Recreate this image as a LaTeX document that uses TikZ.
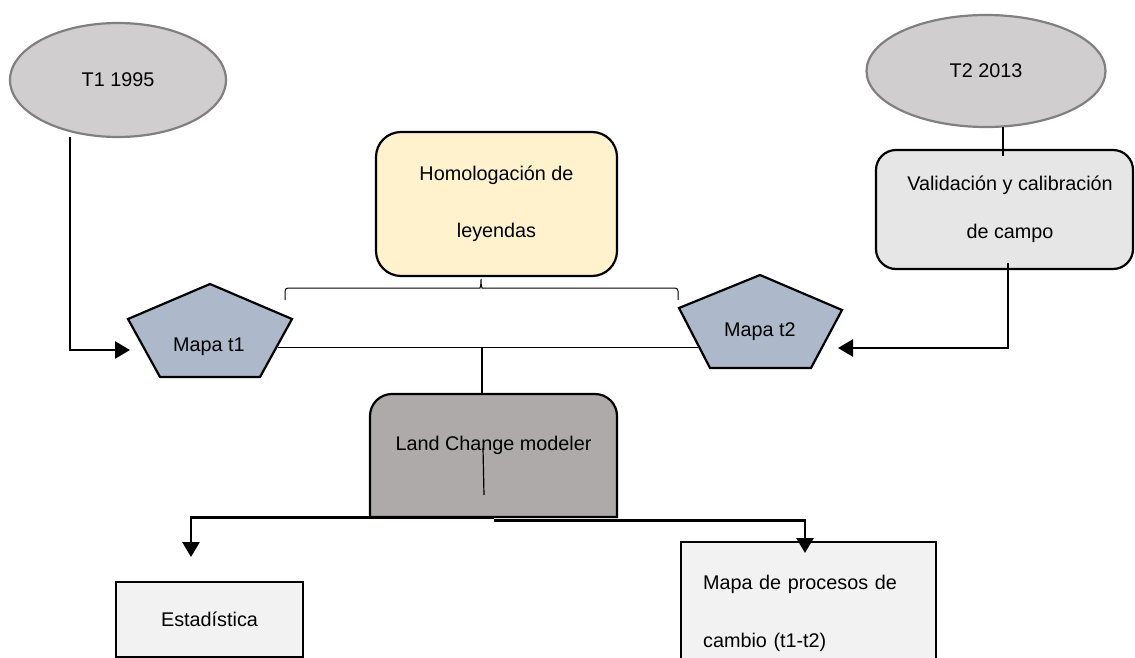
\documentclass[tikz,border=0pt]{standalone}
\usepackage{fontspec}
\setmainfont{Liberation Sans}
\usetikzlibrary{shapes.geometric,arrows.meta}
\definecolor{ellfill}{HTML}{D0CECE}
\definecolor{ellline}{HTML}{808080}
\definecolor{homfill}{HTML}{FFF2CC}
\definecolor{penfill}{HTML}{ADB9CA}
\definecolor{valfill}{HTML}{E7E6E6}
\definecolor{lcmfill}{HTML}{AEAAAA}
\definecolor{boxfill}{HTML}{F2F2F2}
\begin{document}
\begin{tikzpicture}[x=1pt,y=1pt,
  every node/.style={font=\fontsize{19.8}{24}\selectfont, inner sep=0pt},
  ell/.style={ellipse, draw=ellline, line width=2.2pt, fill=ellfill},
  boxline/.style={draw=black, line width=2.2pt},
  penta/.style={draw=black, line width=2.2pt, fill=penfill, line join=miter},
  thinline/.style={draw=black, line width=1.2pt},
  arr/.style={draw=black, line width=2.8pt, -{Triangle[length=15pt,width=17pt]}}
]
\useasboundingbox (0,0) rectangle (1135,-658);
\clip (0,0) rectangle (1135,-658);

% ellipses
\node[ell, minimum width=216, minimum height=114] (t1) at (118,-80) {T1 1995};
\node[ell, minimum width=239, minimum height=112] (t2) at (986,-71) {T2 2013};

% Homologacion
\node[boxline, fill=homfill, rounded corners=25, minimum width=241, minimum height=144,
      align=center, font=\fontsize{19.8}{57}\selectfont] (hom) at (496.5,-204)
      {Homologación de\\leyendas};

% Validacion
\node[boxline, fill=valfill, rounded corners=20, minimum width=257, minimum height=119,
      align=center, font=\fontsize{19.8}{48}\selectfont] (val) at (1004.5,-209.5)
      {\hspace*{11pt}Validación y calibración\\\hspace*{11pt}de campo};

% pentagons
\draw[penta] (210,-284) -- (292,-319) -- (260,-377) -- (160,-377) -- (128,-319) -- cycle;
\node (m1) at (209,-347) {Mapa t1};
\draw[penta] (760,-275) -- (842,-310) -- (811,-368) -- (710,-368) -- (679,-308) -- cycle;
\node (m2) at (760,-332) {Mapa t2};

% Land change modeler box (top corners rounded)
\filldraw[boxline, fill=lcmfill] (370,-517) -- (370,-416)
  arc[start angle=180, end angle=90, radius=22] -- (595,-394)
  arc[start angle=90, end angle=0, radius=22] -- (617,-517) -- cycle;
\node[minimum width=247, minimum height=123] (lcm) at (493.5,-455.5)
  {\raisebox{5.5pt}[0pt][0pt]{Land Change modeler}};

% bottom boxes
\node[boxline, fill=boxfill, minimum width=187, minimum height=75] (est) at (209.5,-619.5) {Estadística};
\node[boxline, fill=boxfill, anchor=north west, inner xsep=22pt, inner ysep=33pt,
      text width=211pt, align=left, font=\fontsize{19.8}{58}\selectfont] (mp) at (680,-541)
      {Mapa de procesos de\\cambio (t1-t2)};

% coordinates for connector ends
\coordinate (a1) at (70,-137);
\coordinate (m1in) at (130,-350);
\coordinate (v1) at (1008,-263);
\coordinate (m2in) at (838,-348);
\coordinate (t2b) at (1003,-127);
\coordinate (valt) at (1003,-156);
\coordinate (m1r) at (278,-347.5);
\coordinate (m2l) at (698,-347.5);
\coordinate (mid) at (482,-347.5);
\coordinate (estin) at (191,-557);
\coordinate (mpin) at (805,-553);
\coordinate (s1) at (483,-448);
\coordinate (s2) at (484,-495);
\coordinate (brl) at (285,-300);
\coordinate (brr) at (678,-300);

% connectors
\draw[arr] (a1) |- (m1in);
\draw[arr] (v1) |- (m2in);
\draw[thinline] (t2b) -- (valt);
\draw[thinline] (m1r) -- (m2l);
\draw[thinline] (mid) -- (mid |- lcm.north);
\draw[thinline] (s1) -- (s2);
% brace
\draw[line width=1pt, rounded corners=3pt] (brl) -- (285,-288) -- (477,-288)
  .. controls (480,-288) and (481,-286) .. (481,-277 |- hom.south)
  .. controls (481,-286) and (482,-288) .. (485,-288) -- (678,-288) -- (brr);
\draw[arr] (lcm.south) -| (estin);
\draw[arr] ([yshift=-3pt]lcm.south) -| (mpin);
\end{tikzpicture}
\end{document}
